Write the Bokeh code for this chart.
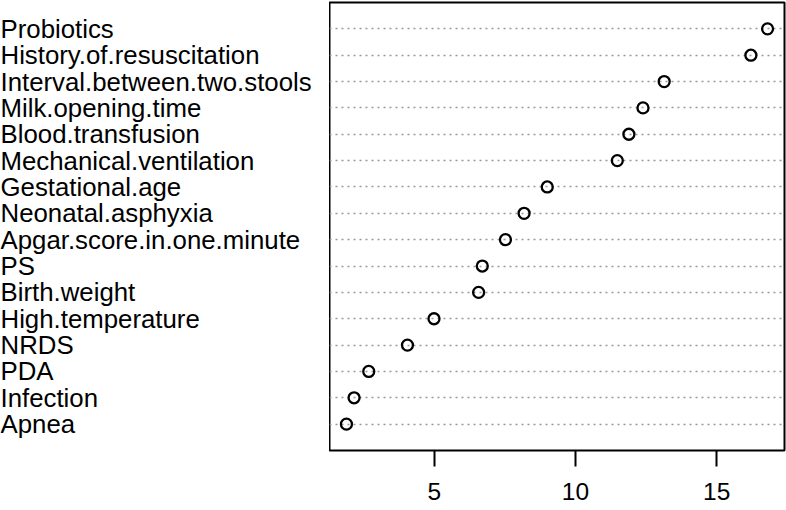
from bokeh.plotting import figure
from bokeh.layouts import row
from bokeh.models import Range1d, FixedTicker, LinearAxis, ColumnDataSource
from bokeh.embed import file_html
from bokeh.resources import INLINE
from bokeh.core.properties import value

# Variable importance (dot chart), listed top to bottom
variables = [
    "Probiotics", "History.of.resuscitation", "Interval.between.two.stools",
    "Milk.opening.time", "Blood.transfusion", "Mechanical.ventilation",
    "Gestational.age", "Neonatal.asphyxia", "Apgar.score.in.one.minute",
    "PS", "Birth.weight", "High.temperature", "NRDS", "PDA", "Infection", "Apnea",
]
importance = [16.80, 16.21, 13.14, 12.39, 11.89, 11.48, 9.00, 8.18, 7.52,
              6.70, 6.57, 4.99, 4.05, 2.68, 2.16, 1.89]
x_ticks = [5, 10, 15]

n = len(variables)
rows = [n - i for i in range(n)]
src = ColumnDataSource(dict(var=variables, imp=importance, row=rows))

FONT = "Liberation Sans"
H = 510
TOP = 2
BOTTOM = 60
yr = Range1d(0, n + 1)

p = figure(width=457, height=H, x_range=Range1d(1.29, 17.40), y_range=yr,
           output_backend="svg", toolbar_location=None,
           x_axis_location=None, y_axis_location=None,
           min_border_left=0, min_border_right=2,
           min_border_top=TOP, min_border_bottom=BOTTOM)
p.grid.visible = False
p.outline_line_color = "black"
p.outline_line_width = 2
p.background_fill_color = "white"
p.border_fill_color = "white"

p.hspan(y="row", source=src, line_color="#999999", line_dash="2 4", line_width=1.5)
p.scatter(x="imp", y="row", source=src, size=11, marker="circle",
          fill_color=None, line_color="black", line_width=2.3)

axis = LinearAxis(ticker=FixedTicker(ticks=x_ticks), axis_line_color=None,
                  major_tick_in=0, major_tick_out=16, major_tick_line_width=2,
                  major_tick_line_color="black", minor_tick_line_color=None,
                  major_label_standoff=16, major_label_text_font=FONT,
                  major_label_text_font_size="24.5px", major_label_text_color="black")
p.add_layout(axis, "below")

lab = figure(width=329, height=H, x_range=Range1d(0, 329), y_range=yr,
             output_backend="svg", toolbar_location=None,
             x_axis_location=None, y_axis_location=None,
             min_border_left=0, min_border_right=0,
             min_border_top=TOP, min_border_bottom=BOTTOM)
lab.grid.visible = False
lab.outline_line_color = None
lab.border_fill_color = "white"
lab.text(x=0, y="row", text="var", source=src, text_font=value(FONT),
         text_font_size="25.8px", text_baseline="middle", text_align="left",
         text_color="black")

layout = row(lab, p)
open("out.html", "w").write(file_html(layout, INLINE))
